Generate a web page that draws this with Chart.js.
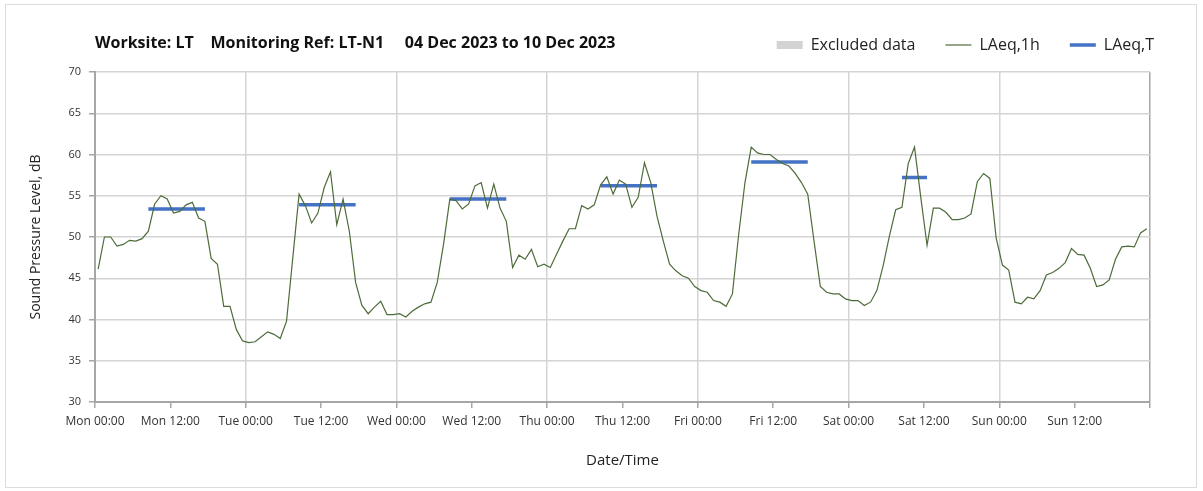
<!DOCTYPE html>
<html>
<head>
<meta charset="utf-8">
<script src="https://cdn.jsdelivr.net/npm/chart.js@4.4.1/dist/chart.umd.min.js"></script>
<style>
    html, body { margin: 0; padding: 0; background: #fff; }
    #wrap { position: relative; width: 1203px; height: 491px; }
    #frame { position: absolute; left: 5px; top: 4px; width: 1192px; height: 484px; border: 1px solid #dcdcdc; box-sizing: border-box; pointer-events: none; }
    #title { position: absolute; left: 95px; top: 31px; font: bold 16px "Open Sans", sans-serif; color: #111; white-space: pre; }
</style>
</head>
<body>
<div id="wrap">
    <canvas id="noiseChart" width="1203" height="491"></canvas>
    <div id="frame"></div>
    <div id="title">Worksite: LT    Monitoring Ref: LT-N1     04 Dec 2023 to 10 Dec 2023</div>
</div>
<script>
// hourly LAeq,1h values, Mon 00:00 .. Sun 23:00
const laeq1h = [
    46.1, 50.0, 50.0, 48.9, 49.1, 49.6, 49.5, 49.8, 50.7, 54.0, 55.0, 54.6,
    52.9, 53.1, 53.9, 54.2, 52.3, 51.9, 47.4, 46.7, 41.6, 41.6, 38.8, 37.4,
    37.2, 37.3, 37.9, 38.5, 38.2, 37.7, 39.8, 47.5, 55.2, 53.8, 51.7, 52.9,
    56.0, 57.9, 51.5, 54.6, 50.7, 44.5, 41.7, 40.7, 41.5, 42.2, 40.6, 40.6,
    40.7, 40.3, 41.0, 41.5, 41.9, 42.1, 44.5, 49.1, 54.6, 54.4, 53.4, 54.0,
    56.2, 56.6, 53.5, 56.4, 53.5, 51.9, 46.3, 47.8, 47.3, 48.5, 46.4, 46.7,
    46.3, 47.9, 49.5, 51.0, 51.0, 53.8, 53.4, 53.9, 56.3, 57.3, 55.2, 56.9,
    56.4, 53.6, 54.8, 59.0, 56.6, 52.5, 49.5, 46.7, 45.9, 45.3, 45.0, 44.0,
    43.5, 43.3, 42.3, 42.1, 41.6, 43.1, 50.3, 56.6, 60.9, 60.2, 60.0, 60.0,
    59.4, 58.9, 58.6, 57.7, 56.6, 55.2, 49.5, 44.0, 43.3, 43.1, 43.1, 42.5,
    42.3, 42.3, 41.7, 42.1, 43.5, 46.5, 50.1, 53.3, 53.6, 58.9, 60.9, 54.8,
    49.0, 53.5, 53.5, 53.0, 52.1, 52.1, 52.3, 52.8, 56.7, 57.7, 57.1, 49.9,
    46.6, 46.0, 42.1, 41.9, 42.7, 42.5, 43.5, 45.4, 45.7, 46.2, 46.9, 48.6,
    47.9, 47.8, 46.2, 44.0, 44.2, 44.8, 47.3, 48.8, 48.9, 48.8, 50.5, 51.0
];

// LAeq,T periods (hour index of first and last hourly value) and levels
const periodStart = [8, 32, 56, 80, 104, 128];
const periodEnd = [17, 41, 65, 89, 113, 132];
const periodLevel = [53.4, 53.9, 54.6, 56.2, 59.1, 57.2];

const dayNames = ['Mon', 'Tue', 'Wed', 'Thu', 'Fri', 'Sat', 'Sun'];
const yTicks = [30, 35, 40, 45, 50, 55, 60, 65, 70];

// points are plotted at the middle of each hour
const hourlyPoints = laeq1h.map((v, i) => ({ x: i + 0.5, y: v }));

const periodPoints = [];
for (let i = 0; i < periodLevel.length; i++) {
    periodPoints.push({ x: periodStart[i] + 0.5, y: periodLevel[i] });
    periodPoints.push({ x: periodEnd[i] + 0.5, y: periodLevel[i] });
    periodPoints.push({ x: periodEnd[i] + 1, y: null });
}

const axisGrey = '#a6a6a6';
const gridGrey = '#d4d4d4';

// push the legend a bit further right than the plot edge
const legendShift = {
    id: 'legendShift',
    afterLayout(chart) {
        if (chart.legend) {
            chart.legend.left += 34;
            chart.legend.right += 34;
        }
    }
};

const ctx = document.getElementById('noiseChart').getContext('2d');
const noiseChart = new Chart(ctx, {
    type: 'line',
    data: {
        datasets: [
            {
                label: 'Excluded data',
                data: [],
                backgroundColor: '#d3d3d3',
                borderColor: '#d3d3d3',
                borderWidth: 0,
                pointStyle: 'rect'
            },
            {
                label: 'LAeq,1h',
                data: hourlyPoints,
                borderColor: '#4e6b3a',
                backgroundColor: '#4e6b3a',
                borderWidth: 1.2,
                pointRadius: 0,
                pointStyle: 'line',
                tension: 0
            },
            {
                label: 'LAeq,T',
                data: periodPoints,
                borderColor: '#4472c4',
                backgroundColor: '#4472c4',
                borderWidth: 3.5,
                pointRadius: 0,
                pointStyle: 'line',
                spanGaps: false
            }
        ]
    },
    plugins: [legendShift],
    options: {
        responsive: false,
        animation: false,
        layout: {
            padding: { left: 10, right: 53, top: 7, bottom: 10 }
        },
        plugins: {
            tooltip: { enabled: false },
            legend: {
                position: 'top',
                align: 'end',
                labels: {
                    usePointStyle: true,
                    pointStyleWidth: 26,
                    boxHeight: 8,
                    padding: 30,
                    color: '#222',
                    font: { family: 'Open Sans', size: 16 }
                }
            }
        },
        scales: {
            x: {
                type: 'linear',
                min: 0,
                max: 168,
                afterFit: function(scale) { scale.height = 79; },
                ticks: {
                    stepSize: 12,
                    autoSkip: false,
                    maxRotation: 0,
                    color: '#333',
                    padding: 6,
                    font: { family: 'Open Sans', size: 12 },
                    callback: function(value) {
                        if (value >= 168) return '';
                        const day = dayNames[Math.floor(value / 24)];
                        return day + (value % 24 === 0 ? ' 00:00' : ' 12:00');
                    }
                },
                grid: {
                    color: ctx => {
                        const v = ctx.tick ? ctx.tick.value : 0;
                        if (v === 168) return axisGrey;
                        return v % 24 === 0 ? gridGrey : 'rgba(0,0,0,0)';
                    },
                    lineWidth: 1.5,
                    tickColor: axisGrey,
                    tickLength: 6
                },
                border: { color: axisGrey, width: 2 },
                title: {
                    display: true,
                    text: 'Date/Time',
                    color: '#222',
                    font: { family: 'Open Sans', size: 15 },
                    padding: { top: 0, bottom: 11 }
                }
            },
            // empty spacer between the legend and the plot
            xTop: {
                type: 'linear',
                position: 'top',
                afterFit: function(scale) { scale.height = 9; },
                grid: { display: false },
                ticks: { display: false },
                border: { display: false }
            },
            y: {
                min: 30,
                max: 70,
                afterFit: function(scale) { scale.width = 85; },
                afterBuildTicks: function(scale) {
                    scale.ticks = yTicks.map(v => ({ value: v }));
                },
                ticks: {
                    color: '#333',
                    padding: 8,
                    font: { family: 'Open Sans', size: 11 }
                },
                grid: {
                    color: gridGrey,
                    lineWidth: 1.5,
                    tickColor: axisGrey,
                    tickLength: 6
                },
                border: { color: axisGrey, width: 2 },
                title: {
                    display: true,
                    text: 'Sound Pressure Level, dB',
                    color: '#222',
                    font: { family: 'Open Sans', size: 14 },
                    padding: { top: 18, bottom: 0 }
                }
            }
        }
    }
});
</script>
</body>
</html>
